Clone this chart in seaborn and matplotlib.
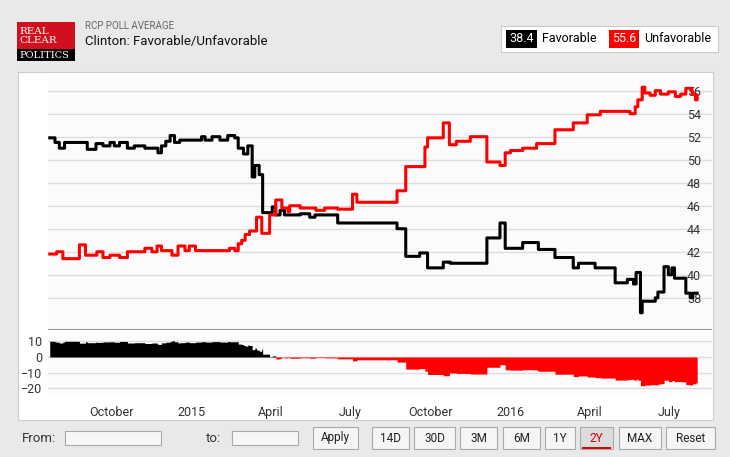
import matplotlib
matplotlib.use("Agg")
import matplotlib.pyplot as plt
from matplotlib.patches import Rectangle
import numpy as np
import pandas as pd
import seaborn as sns

# Step breakpoints: days after 2014-10-01, value
fav_days = [-71, -65, -60, -54, -28, -18, -10, -2, 3, 9, 18, 26, 38, 53, 57, 62, 67, 72, 78,
            103, 107, 115, 124, 133, 141, 145, 151, 156, 161, 164, 169, 173, 184, 188, 193,
            198, 216, 227, 233, 259, 327, 337, 353, 362, 380, 388, 430, 445, 451, 471, 489,
            508, 529, 535, 554, 577, 591, 598, 601, 606, 608, 623, 626, 633, 638, 642, 645,
            658, 663, 666, 671]
fav_vals = [51.9, 51.5, 51.0, 51.5, 50.9, 51.4, 51.2, 51.5, 51.2, 51.5, 51.0, 51.2, 51.0, 50.6,
            51.2, 51.6, 52.1, 51.5, 51.7, 52.0, 51.7, 52.0, 51.7, 52.1, 51.9, 51.0, 50.5, 51.2,
            48.5, 49.5, 48.7, 45.4, 45.9, 45.2, 45.6, 45.2, 45.3, 45.0, 45.2, 44.5, 44.0, 41.6,
            41.9, 40.6, 41.1, 41.0, 43.2, 44.5, 42.3, 42.8, 42.2, 41.5, 40.6, 41.0, 40.6, 39.3,
            39.6, 39.2, 40.2, 36.7, 37.7, 38.0, 38.5, 40.7, 40.0, 40.6, 39.7, 38.4, 38.0, 38.4,
            38.4]
unfav_days = [-71, -63, -56, -37, -30, -17, -10, -2, 9, 18, 38, 46, 52, 57, 69, 76, 84, 89, 96,
              135, 141, 145, 149, 153, 158, 166, 172, 181, 188, 195, 202, 204, 216, 234, 244,
              259, 276, 281, 327, 337, 359, 362, 380, 387, 395, 411, 430, 445, 451, 457, 471,
              487, 508, 529, 545, 560, 594, 600, 603, 608, 611, 617, 623, 629, 638, 646, 652,
              658, 665, 669, 671]
unfav_vals = [41.8, 42.0, 41.4, 42.6, 41.7, 42.0, 41.5, 41.7, 41.5, 42.0, 42.3, 42.0, 42.5, 42.1,
              41.7, 42.5, 42.1, 42.5, 42.1, 42.3, 42.1, 42.7, 43.0, 43.5, 43.8, 45.0, 43.6, 45.2,
              46.5, 45.8, 45.5, 46.0, 45.8, 45.6, 45.8, 45.7, 47.0, 46.3, 47.3, 49.4, 51.1, 51.9,
              53.2, 51.3, 51.6, 52.0, 49.8, 49.5, 50.6, 50.8, 51.0, 51.4, 52.6, 53.2, 53.9, 54.2,
              54.0, 54.6, 55.2, 56.3, 55.8, 55.6, 56.0, 55.7, 55.9, 55.5, 55.7, 56.2, 55.7, 55.2,
              55.6]
month_ticks = ["2014-10-01", "2015-01-01", "2015-04-01", "2015-07-01",
               "2015-10-01", "2016-01-01", "2016-04-01", "2016-07-01"]
month_labels = ["October", "2015", "April", "July", "October", "2016", "April", "July"]

base = pd.Timestamp("2014-10-01")
days = pd.date_range(base + pd.Timedelta(days=-71), base + pd.Timedelta(days=671), freq="D")


def step_series(d, v):
    s = pd.Series(v, index=base + pd.to_timedelta(d, unit="D"))
    s = s[~s.index.duplicated(keep="last")]
    return s.reindex(days, method="ffill")


fav = step_series(fav_days, fav_vals)
unfav = step_series(unfav_days, unfav_vals)
df = pd.DataFrame({"date": days, "fav": fav.values, "unfav": unfav.values})
df["spread"] = df.fav - df.unfav

plt.rcParams['font.family'] = ['Roboto', 'DejaVu Sans']

W, H = 730, 457
fig = plt.figure(figsize=(W / 100, H / 100), dpi=100)
fig.patch.set_facecolor("#e9e9e9")


def box(x0, y0, x1, y1, z=1, **kw):
    fig.patches.append(Rectangle((x0 / W, 1 - y1 / H), (x1 - x0) / W, (y1 - y0) / H,
                                 transform=fig.transFigure, zorder=z, **kw))


# white chart card behind the axes
box(18, 72, 713, 420, z=-5, facecolor="white", edgecolor="#cccccc", lw=0.8)

xmin = base + pd.Timedelta(days=-73)
xmax = base + pd.Timedelta(days=688)

ax = fig.add_axes([48 / W, 1 - 330 / H, (712 - 48) / W, (330 - 78) / H])
ax.set_facecolor("#fbfbfd")
sns.lineplot(data=df, x="date", y="fav", color="black", lw=2.2, drawstyle="steps-post", ax=ax)
sns.lineplot(data=df, x="date", y="unfav", color="#ff0000", lw=2.2, drawstyle="steps-post", ax=ax)
ax.set_xlim(xmin, xmax)
ax.set_ylim(35.2, 57.1)
ax.set_yticks(range(38, 57, 2))
ax.yaxis.tick_right()
ax.tick_params(axis="y", length=0, pad=-18, labelsize=9, colors="#333333")
ax.set_xticks([])
ax.grid(axis="y", color="#dddddd", lw=1)
ax.set_axisbelow(True)
ax.set_xlabel("")
ax.set_ylabel("")
for sp in ax.spines.values():
    sp.set_visible(False)
ax.axhline(35.2, color="#999999", lw=1.5)

ax2 = fig.add_axes([48 / W, 1 - 395 / H, (712 - 48) / W, (395 - 332) / H])
ax2.set_facecolor("#fbfbfd")
pos = df.spread.clip(lower=0)
neg = df.spread.clip(upper=0)
ax2.fill_between(df.date, 0, pos, step="post", color="black", lw=0)
ax2.fill_between(df.date, 0, neg, step="post", color="#ff0000", lw=0)
ax2.set_xlim(xmin, xmax)
ax2.set_ylim(-24.5, 16.1)
ax2.set_yticks([10, 0, -10, -20])
ax2.tick_params(axis="y", length=0, pad=4, labelsize=9, colors="#333333")
ax2.set_xticks(pd.to_datetime(month_ticks))
ax2.set_xticklabels(month_labels)
ax2.tick_params(axis="x", length=0, pad=8, labelsize=9, colors="#333333")
ax2.grid(axis="y", color="#dddddd", lw=1)
ax2.set_axisbelow(True)
for sp in ax2.spines.values():
    sp.set_visible(False)

# header
box(17, 22, 75, 50, facecolor="#d0101c", lw=0)
box(17, 49, 75, 61, facecolor="black", lw=0)
fig.text(19 / W, 1 - 36 / H, "REAL\nCLEAR", color="white", family="DejaVu Serif",
         fontsize=7.5, va="center", linespacing=0.9)
fig.text(19 / W, 1 - 55 / H, "POLITICS", color="white", family="DejaVu Serif",
         fontsize=7, va="center")
fig.text(85 / W, 1 - 26 / H, "RCP POLL AVERAGE", fontsize=7, color="#666666", va="center")
fig.text(85 / W, 1 - 41 / H, "Clinton: Favorable/Unfavorable", fontsize=9.5, color="#111111",
         va="center")
box(501, 26, 718, 52, facecolor="white", edgecolor="#cccccc", lw=0.8)
box(506, 30, 537, 48, facecolor="black", lw=0)
fig.text(521.5 / W, 1 - 39 / H, f"{fav_vals[-1]:.1f}", color="white", fontsize=9,
         ha="center", va="center")
fig.text(542 / W, 1 - 39 / H, "Favorable", fontsize=9, va="center")
box(609, 30, 639, 48, facecolor="#ff0000", lw=0)
fig.text(624 / W, 1 - 39 / H, f"{unfav_vals[-1]:.1f}", color="white", fontsize=9,
         ha="center", va="center")
fig.text(644 / W, 1 - 39 / H, "Unfavorable", fontsize=9, va="center")

# toolbar
fig.text(22 / W, 1 - 438 / H, "From:", fontsize=9.5, va="center", color="#333333")
box(65, 431, 161, 445, facecolor="#f7f7f7", edgecolor="#aaaaaa", lw=0.8)
fig.text(206 / W, 1 - 438 / H, "to:", fontsize=9.5, va="center", color="#333333")
box(232, 431, 298, 445, facecolor="#f7f7f7", edgecolor="#aaaaaa", lw=0.8)
buttons = [("Apply", 313, 358), ("14D", 372, 409), ("30D", 414, 455), ("3M", 460, 497),
           ("6M", 503, 540), ("1Y", 545, 575), ("2Y", 580, 613), ("MAX", 619, 661),
           ("Reset", 666, 715)]
for label, x0, x1 in buttons:
    active = label == "2Y"
    box(x0, 427, x1, 449, facecolor="#dcdcdc" if active else "#f5f5f5",
        edgecolor="#aaaaaa", lw=0.8)
    fig.text((x0 + x1) / 2 / W, 1 - 438 / H, label, fontsize=8.5, ha="center", va="center",
             color="#cc0000" if active else "#222222")
    if active:
        box(x0 + 2, 447, x1 - 2, 449, facecolor="#dd0000", lw=0)

fig.savefig("out.png", dpi=100)
